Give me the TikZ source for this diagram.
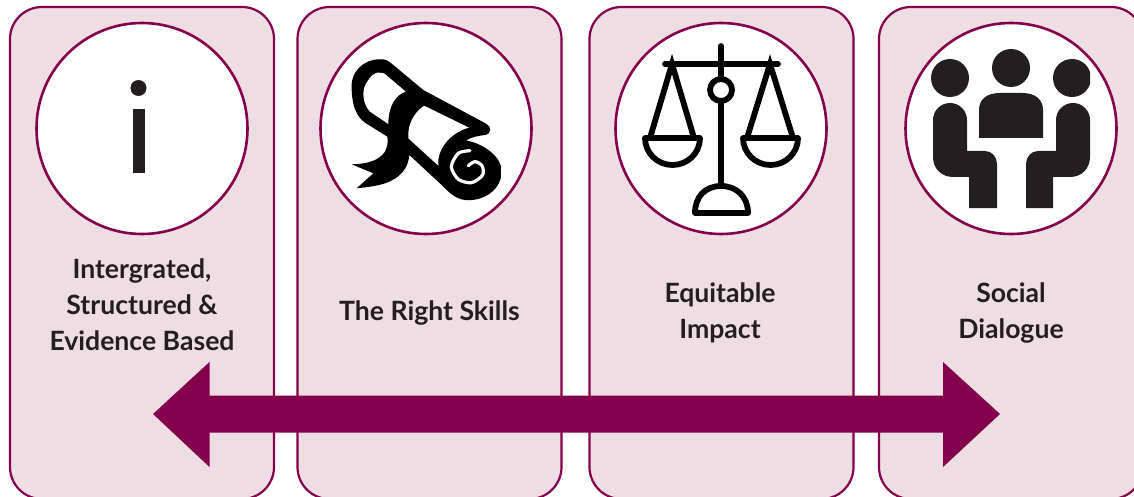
\documentclass[tikz,border=0pt]{standalone}
\usepackage{fontspec}
\setmainfont{Lato}
\definecolor{wine}{HTML}{85004B}
\definecolor{cardfill}{HTML}{EEDDE3}
\definecolor{ink}{HTML}{231F20}
\tikzset{
  card/.style={draw=wine,fill=cardfill,line width=2.2pt,rounded corners=32pt,minimum width=264pt,minimum height=492pt,inner sep=0pt},
  badge/.style={circle,draw=wine,fill=white,line width=2.6pt,minimum size=211pt,inner sep=0pt},
  caption/.style={text=ink,align=center,font=\fontsize{26.6}{35.8}\selectfont\bfseries,inner sep=0pt},
  scaleline/.style={draw=black,line width=5.8pt,line cap=round,line join=round},
}
\begin{document}
\begin{tikzpicture}[x=1pt,y=-1pt]
\clip (0,0) rectangle (1134,497);
\fill[white] (0,0) rectangle (1134,497);
\node[card] (c1) at (142,253) {};
\node[card] (c2) at (429.5,253) {};
\node[card] (c3) at (721.5,253) {};
\node[card] (c4) at (1011,253) {};
\node[badge] (b1) at (142,128.5) {};
\node[badge] (b2) at (426,128.5) {};
\node[badge] (b3) at (721,128.5) {};
\node[badge] (b4) at (1011,128.5) {};
% i
\fill[ink] (138.5,88) circle (8);
\fill[ink] (133,109) rectangle (144.5,173);
% scroll (coordinates in 3x crop units)
\begin{scope}[shift={(300,0)},x=0.3333pt,y=-0.3333pt]
\begin{scope}
\clip (100,100) rectangle (603,650);
\fill[black] (155,270) .. controls (150,215) and (190,178) .. (240,178)
  .. controls (255,176) and (265,182) .. (280,195)
  -- (370,270) -- (560,372) .. controls (575,380) and (575,402) .. (555,405)
  .. controls (535,408) and (515,410) .. (498,422)
  .. controls (545,428) and (610,470) .. (605,520)
  .. controls (600,575) and (545,605) .. (495,600)
  .. controls (465,597) and (445,575) .. (425,555)
  -- (328,465) .. controls (325,505) and (300,535) .. (255,550)
  .. controls (230,558) and (200,562) .. (170,565)
  -- (220,520) -- (155,493)
  .. controls (195,492) and (235,485) .. (255,455)
  .. controls (262,440) and (265,425) .. (262,410)
  -- (195,368) .. controls (170,350) and (157,320) .. (155,270) -- cycle;
\end{scope}
\fill[white] (205,240) .. controls (220,215) and (245,210) .. (262,228)
  -- (317,275) .. controls (285,285) and (265,320) .. (265,372)
  -- (210,335) .. controls (190,315) and (180,270) .. (205,240) -- cycle;
\fill[white] (372,317) -- (507,383) .. controls (460,395) and (410,440) .. (415,497)
  -- (325,415) .. controls (322,375) and (340,340) .. (372,317) -- cycle;
\draw[white,line width=3.2pt,line cap=round] plot[smooth] coordinates {(510,452) (475,460) (454,500) (475,538) (515,548) (548,525) (546,497) (525,485) (505,497)};
\end{scope}
% scales
\draw[scaleline] (721,46) -- (721,79);
\draw[scaleline] (721,102) -- (721,186);
\draw[scaleline] (665,64) -- (778,64);
\draw[scaleline] (721,90) circle (11);
\draw[scaleline,line join=miter] (650,138) -- (672,64) -- (694,138);
\draw[scaleline,line join=miter] (747,138) -- (770,64) -- (793,138);
\draw[scaleline] (645,138) -- (700,138) arc[start angle=0,end angle=180,x radius=27.5,y radius=27] -- cycle;
\draw[scaleline] (743,138) -- (798,138) arc[start angle=0,end angle=180,x radius=27.5,y radius=27] -- cycle;
\draw[scaleline] (695,213) -- (748,213) .. controls (748,197) and (737,186) .. (721,186) .. controls (705,186) and (695,197) .. (695,213) -- cycle;
% people
\begin{scope}
\clip (900,30) rectangle (1090,225);
\fill[ink] (950,78) circle (19);
\fill[ink] (1011,68) circle (19);
\fill[ink] (1072,78) circle (19);
\fill[ink] (979,138) -- (979,110) .. controls (979,100) and (986,93) .. (1000,93) -- (1022,93) .. controls (1036,93) and (1043,100) .. (1043,110) -- (1043,138) -- cycle;
\fill[ink] (933,120) arc[start angle=180,end angle=360,radius=17] -- (967,151) -- (985,151) .. controls (992,151) and (997,157) .. (997,164) -- (997,208) -- (969,208) -- (969,177) -- (953,177) .. controls (941,177) and (933,168) .. (933,157) -- cycle;
\fill[ink] (1090,120) arc[start angle=0,end angle=-180,radius=17] -- (1056,151) -- (1038,151) .. controls (1031,151) and (1026,157) .. (1026,164) -- (1026,208) -- (1053,208) -- (1053,177) -- (1070,177) .. controls (1082,177) and (1090,168) .. (1090,157) -- cycle;
\end{scope}
% captions
\node[caption] (t1) at (142,304.8) {Intergrated,\\Structured \&\\Evidence Based};
\node[caption] (t2) at (429.5,313) {The Right Skills};
\node[caption] (t3) at (720,312.8) {Equitable\\Impact};
\node[caption] (t4) at (1011,312.8) {Social\\Dialogue};
% double arrow
\coordinate (al) at (153,414);
\coordinate (ar) at (1000,414);
\fill[wine] (al) -- (209.5,362) -- (209.5,395.5) -- (943,395.5) -- (943,362) -- (ar) -- (943,467) -- (943,432.5) -- (209.5,432.5) -- (209.5,467) -- cycle;
\end{tikzpicture}
\end{document}
